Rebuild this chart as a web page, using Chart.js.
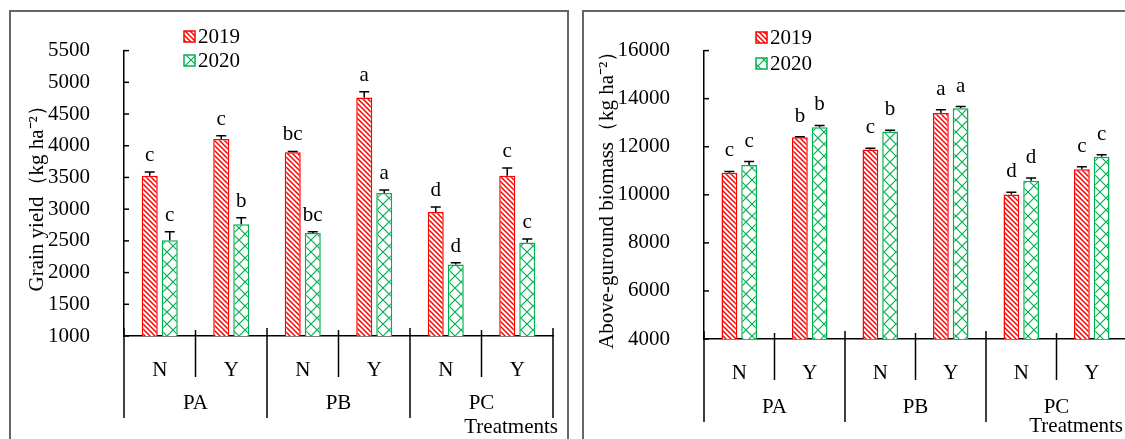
<!DOCTYPE html>
<html>
<head>
<meta charset="utf-8">
<script src="https://cdn.jsdelivr.net/npm/chart.js"></script>
<style>
  html, body { margin: 0; padding: 0; background: #fff; overflow: hidden; }
  body { width: 1125px; height: 439px; position: relative; }
  .panel { position: absolute; border: 2px solid #666; }
  #leftPanel { left: 9px; top: 10px; width: 556px; height: 430px; }
  #rightPanel { left: 582px; top: 10px; width: 560px; height: 430px; }
</style>
</head>
<body>
<div class="panel" id="leftPanel"><canvas id="yieldChart"></canvas></div>
<div class="panel" id="rightPanel"><canvas id="biomassChart"></canvas></div>
<script>
// categories
const treatments = ["N", "Y", "N", "Y", "N", "Y"];
const groups = ["PA", "PB", "PC"];
const years = ["2019", "2020"];

// grain yield (kg ha-2)
const yield2019 = [3525, 4108, 3896, 4762, 2955, 3525];
const yield2020 = [2510, 2763, 2623, 3253, 2129, 2475];
const yieldErr2019 = [60, 50, 15, 90, 80, 125];
const yieldErr2020 = [135, 100, 20, 50, 25, 55];
const yieldLetters2019 = ["c", "c", "bc", "a", "d", "c"];
const yieldLetters2020 = ["c", "b", "bc", "a", "d", "c"];

// above-ground biomass (kg ha-2)
const biomass2019 = [10916, 12392, 11889, 13404, 10013, 11063];
const biomass2020 = [11235, 12807, 12632, 13605, 10584, 11582];
const biomassErr2019 = [55, 20, 50, 140, 90, 105];
const biomassErr2020 = [150, 80, 50, 65, 120, 80];
const biomassLetters2019 = ["c", "b", "c", "a", "d", "c"];
const biomassLetters2020 = ["c", "b", "b", "a", "d", "c"];

const RED = "#ff0000";
const GREEN = "#00b050";
const FONT = "'Liberation Serif', 'Times New Roman', serif";

function hatchPattern(color) {
  const c = document.createElement("canvas");
  c.width = c.height = 5;
  const g = c.getContext("2d");
  g.fillStyle = "#fff";
  g.fillRect(0, 0, 5, 5);
  g.strokeStyle = color;
  g.lineWidth = 1.5;
  g.beginPath();
  g.moveTo(-1, -1); g.lineTo(6, 6);
  g.moveTo(-1, 4); g.lineTo(1, 6);
  g.moveTo(4, -1); g.lineTo(6, 1);
  g.stroke();
  return g.createPattern(c, "repeat");
}

function latticePattern(color) {
  const c = document.createElement("canvas");
  c.width = c.height = 12;
  const g = c.getContext("2d");
  g.fillStyle = "#fff";
  g.fillRect(0, 0, 12, 12);
  g.strokeStyle = color;
  g.lineWidth = 1.2;
  g.beginPath();
  g.moveTo(0, 0); g.lineTo(12, 12);
  g.moveTo(12, 0); g.lineTo(0, 12);
  g.stroke();
  return g.createPattern(c, "repeat");
}

const extras = {
  id: "extras",
  afterDatasetsDraw(chart, args, opts) {
    const ctx = chart.ctx;
    const yScale = chart.scales.y;
    ctx.save();
    ctx.strokeStyle = "#000";
    ctx.lineWidth = 1.5;
    ctx.fillStyle = "#000";
    ctx.font = "21px " + FONT;
    ctx.textAlign = "center";
    ctx.textBaseline = "alphabetic";
    chart.data.datasets.forEach((ds, di) => {
      chart.getDatasetMeta(di).data.forEach((bar, i) => {
        const yTop = yScale.getPixelForValue(ds.data[i] + opts.errors[di][i]);
        ctx.beginPath();
        ctx.moveTo(bar.x, bar.y);
        ctx.lineTo(bar.x, yTop);
        ctx.moveTo(bar.x - 5, yTop);
        ctx.lineTo(bar.x + 5, yTop);
        ctx.stroke();
        ctx.fillText(opts.letters[di][i], bar.x, yTop - opts.letterGap);
      });
    });
    ctx.restore();
  },
  afterDraw(chart, args, opts) {
    const ctx = chart.ctx;
    const { left, right, bottom } = chart.chartArea;
    const yScale = chart.scales.y;
    const xScale = chart.scales.x;
    ctx.save();
    ctx.strokeStyle = "#000";
    ctx.lineWidth = 1.5;
    // inner ticks on the y axis
    yScale.ticks.forEach((t, i) => {
      const py = yScale.getPixelForTick(i);
      ctx.beginPath();
      ctx.moveTo(left, py);
      ctx.lineTo(left + 5, py);
      ctx.stroke();
    });
    // separators below the x axis
    const n = treatments.length;
    const step = (right - left) / n;
    for (let i = 0; i <= n; i++) {
      const px = left + i * step;
      ctx.beginPath();
      if (i % 2 === 0) {
        ctx.moveTo(px, bottom - 8);
        ctx.lineTo(px, bottom + opts.groupSepLen);
      } else {
        ctx.moveTo(px, bottom - 6);
        ctx.lineTo(px, bottom + 41);
      }
      ctx.stroke();
    }
    // group labels
    ctx.fillStyle = "#000";
    ctx.font = "21px " + FONT;
    ctx.textAlign = "center";
    ctx.textBaseline = "middle";
    groups.forEach((g, gi) => {
      const cx = (xScale.getPixelForValue(gi * 2) + xScale.getPixelForValue(gi * 2 + 1)) / 2;
      ctx.fillText(g, cx, bottom + opts.groupLabelY);
    });
    ctx.textAlign = "right";
    ctx.fillText("Treatments", right + opts.treatDx, bottom + opts.treatY);
    // legend
    const lg = opts.legend;
    chart.data.datasets.forEach((ds, di) => {
      const by = lg.y + di * lg.gap;
      ctx.fillStyle = ds.backgroundColor;
      ctx.fillRect(lg.x, by, 11, 11);
      ctx.strokeStyle = ds.borderColor;
      ctx.lineWidth = 1.5;
      ctx.strokeRect(lg.x, by, 11, 11);
      ctx.fillStyle = "#000";
      ctx.textAlign = "left";
      ctx.fillText(ds.label, lg.x + 14, by + 6);
    });
    ctx.restore();
  }
};

function makeChart(id, cfg) {
  new Chart(document.getElementById(id), {
    type: "bar",
    data: {
      labels: treatments,
      datasets: [
        {
          label: years[0],
          data: cfg.v2019,
          backgroundColor: hatchPattern(RED),
          borderColor: RED,
          borderWidth: 1.5
        },
        {
          label: years[1],
          data: cfg.v2020,
          backgroundColor: latticePattern(GREEN),
          borderColor: GREEN,
          borderWidth: 1.5
        }
      ]
    },
    options: {
      responsive: true,
      maintainAspectRatio: false,
      animation: false,
      categoryPercentage: 0.56,
      barPercentage: 0.8,
      layout: { padding: { top: cfg.padTop, right: cfg.padRight, left: 0, bottom: 0 } },
      plugins: {
        legend: { display: false },
        tooltip: { enabled: false },
        extras: {
          errors: [cfg.e2019, cfg.e2020],
          letters: [cfg.l2019, cfg.l2020],
          letterGap: cfg.letterGap,
          groupSepLen: cfg.groupSepLen,
          groupLabelY: cfg.groupLabelY,
          treatY: cfg.treatY,
          treatDx: cfg.treatDx,
          legend: cfg.legend
        }
      },
      scales: {
        x: {
          grid: { display: false },
          border: { color: "#000", width: 1.5 },
          ticks: { color: "#000", font: { family: FONT, size: 21 }, padding: 14, maxRotation: 0, autoSkip: false },
          afterFit: (s) => { s.height = cfg.xHeight; }
        },
        y: {
          min: cfg.min,
          max: cfg.max,
          grid: { display: false },
          border: { color: "#000", width: 1.5 },
          ticks: {
            stepSize: cfg.step,
            color: "#000",
            padding: 26,
            font: { family: FONT, size: 21 },
            callback: (v) => v
          },
          title: {
            display: true,
            text: cfg.title,
            color: "#000",
            font: { family: FONT, size: 21 },
            padding: { top: cfg.titlePad, bottom: 0 }
          },
          afterFit: (s) => { s.width = cfg.yWidth; }
        }
      }
    },
    plugins: [extras]
  });
}

makeChart("yieldChart", {
  v2019: yield2019, v2020: yield2020,
  e2019: yieldErr2019, e2020: yieldErr2020,
  l2019: yieldLetters2019, l2020: yieldLetters2020,
  min: 1000, max: 5500, step: 500,
  title: "Grain yield（kg ha⁻²）",
  padTop: 21, padRight: 14, yWidth: 113, xHeight: 106, titlePad: 14,
  letterGap: 11, groupSepLen: 82, groupLabelY: 67, treatY: 91, treatDx: 5,
  legend: { x: 173, y: 19, gap: 24 }
});

makeChart("biomassChart", {
  v2019: biomass2019, v2020: biomass2020,
  e2019: biomassErr2019, e2020: biomassErr2020,
  l2019: biomassLetters2019, l2020: biomassLetters2020,
  min: 4000, max: 16000, step: 2000,
  title: "Above-guround biomass（kg ha⁻²）",
  padTop: 26, padRight: 17, yWidth: 120, xHeight: 103, titlePad: 11,
  letterGap: 15, groupSepLen: 83, groupLabelY: 68, treatY: 87, treatDx: -4,
  legend: { x: 172, y: 20, gap: 26 }
});
</script>
</body>
</html>
